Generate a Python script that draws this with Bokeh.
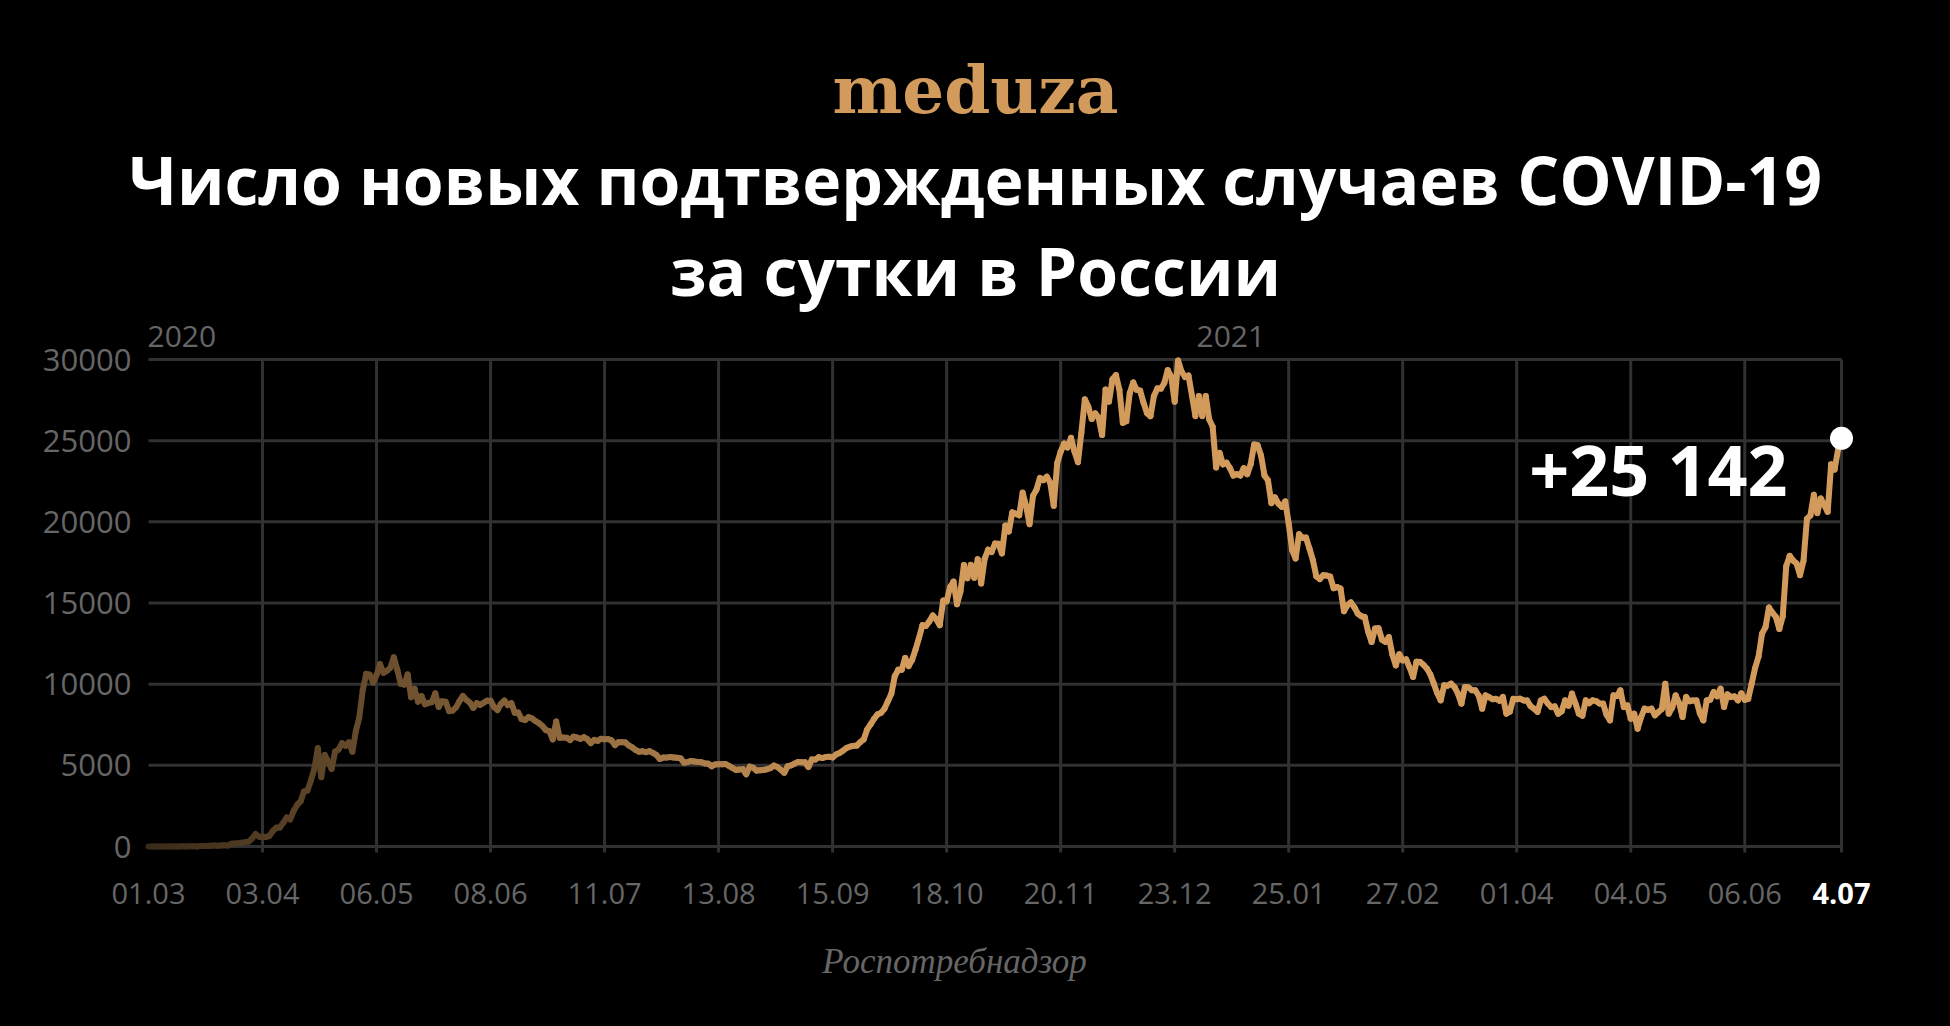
import numpy as np
import pandas as pd
from bokeh.plotting import figure
from bokeh.models import Range1d, ColumnDataSource
from bokeh.core.properties import value
from bokeh.embed import file_html
from bokeh.resources import INLINE

# ---------------- data (daily new confirmed cases, Russia) ----------------
START_DATE = "2020-03-01"
MAR_2020 = [0, 1, 0, 0, 1, 6, 0, 3, 0, 3, 8, 6, 17, 14, 4, 27, 24, 33, 52, 54, 53, 61, 71, 57, 163, 182, 196, 228, 270, 302, 501]
APR_2020 = [771, 601, 601, 582, 658, 954, 1154, 1175, 1459, 1786, 1667, 2186, 2558, 2774, 3388, 3448, 4070, 4785, 6060, 4268,
            5642, 5236, 4774, 5849, 5966, 6361, 6198, 6411, 5841, 7099]
MAY_2020 = [7933, 9623, 10633, 10581, 10102, 10559, 11231, 10699, 10817, 11012, 11656, 10899, 10028, 9974, 10598, 9200, 9709,
            8926, 9263, 8764, 8849, 8894, 9434, 8599, 8946, 8915, 8338, 8371, 8572, 8952, 9268]
JUN_2020 = [9035, 8863, 8536, 8831, 8726, 8855, 8984, 8985, 8595, 8404, 8779, 8987, 8706, 8835, 8246, 8248, 7843, 7790, 7972,
            7889, 7728, 7600, 7425, 7176, 7113, 6600, 7700, 6693, 6719, 6693]
JUL_2020 = [6556, 6760, 6718, 6632, 6736, 6611, 6368, 6562, 6509, 6635, 6611, 6615, 6537, 6248, 6422, 6428, 6406, 6234, 6109,
            5940, 5842, 5862, 5811, 5871, 5765, 5635, 5395, 5475, 5475, 5509, 5482]
AUG_2020 = [5462, 5427, 5159, 5204, 5267, 5241, 5212, 5189, 5118, 5102, 4945, 5058, 5065, 5061, 5076, 4969, 4839, 4718, 4748,
            4767, 4450, 4921, 4852, 4676, 4696, 4711, 4758, 4829, 4980, 4897, 4729]
SEP_2020 = [4540, 4952, 4995, 5110, 5205, 5195, 5185, 4900, 5363, 5363, 5504, 5449, 5509, 5529, 5488, 5670, 5762, 5905, 6065,
            6148, 6196, 6215, 6431, 6595, 7212, 7523, 7867, 8135, 8232, 8481]
OCT_2020 = [8945, 9412, 10499, 10888, 10888, 11615, 11115, 11493, 12126, 12846, 13634, 13592, 13868, 14231, 14000, 13630, 15150,
            15099, 15982, 16319, 14922, 15700, 17340, 16521, 17347, 16550, 17700, 16202, 17717, 18283, 18140]
NOV_2020 = [18665, 18648, 18050, 19768, 19404, 20582, 20498, 20396, 21798, 20977, 19851, 21608, 21983, 22702, 22572, 22778,
            22410, 20985, 23610, 24318, 24822, 24581, 25173, 24326, 23675, 25487, 27543, 27100, 26338, 26683]
DEC_2020 = [26402, 25345, 28145, 27403, 28782, 29039, 28142, 26097, 26190, 27927, 28585, 28137, 28080, 27328, 26689, 26509,
            27750, 28214, 28209, 28552, 29350, 28948, 27400, 29935, 29258, 28921, 29018, 27787, 26513, 27747, 26513]
JAN_2021 = [27747, 26301, 25860, 23351, 24246, 23541, 23652, 23309, 22851, 22934, 22850, 23315, 22934, 23541, 24763, 24715,
            24092, 22857, 22565, 21152, 21513, 21127, 20921, 21262, 19900, 18255, 17741, 19238, 19014, 19032, 18359]
FEB_2021 = [17640, 16643, 16474, 16714, 16688, 16627, 15916, 15977, 15890, 14494, 14861, 15038, 14734, 14350, 14185, 14140,
            13233, 12600, 13433, 13447, 12742, 12604, 12900, 11823, 11160, 11843, 11470, 11534]
MAR_2021 = [11024, 10440, 11385, 11370, 11198, 10960, 10595, 10030, 9437, 9000, 9930, 9907, 10030, 9816, 9415, 8800, 9830, 9801,
            9632, 9620, 9299, 8490, 9310, 9195, 9073, 9100, 8979, 9210, 8180, 8304, 9100]
APR_2021 = [9073, 9102, 9000, 8996, 8646, 8490, 8294, 8997, 9100, 8810, 8590, 8632, 8180, 8326, 9000, 8672, 9415, 8806, 8180,
            8053, 9000, 8828, 9000, 8951, 8807, 8800, 8114, 7770, 9310, 9270]
MAY_2021 = [9623, 8590, 8697, 7875, 8180, 7255, 7975, 8490, 8419, 8490, 8075, 8280, 8465, 10030, 8180, 8554, 9310, 8832, 7975,
            9210, 8951, 8997, 9000, 8217, 7770, 9000, 9045, 9515, 9256, 9720, 8590]
JUN_2021 = [9371, 9210, 9247, 9000, 9433, 9039, 9100, 10030, 11000, 11699, 13115, 13510, 14723, 14400, 14140, 13397, 14185,
            17262, 17906, 17611, 17430, 16715, 17594, 20182, 20393, 21665, 20538, 21440, 21042, 20616]
JUL_2021 = [23543, 23218, 24439, 25142]

VALUES = (MAR_2020 + APR_2020 + MAY_2020 + JUN_2020 + JUL_2020 + AUG_2020 + SEP_2020 + OCT_2020 + NOV_2020 + DEC_2020
          + JAN_2021 + FEB_2021 + MAR_2021 + APR_2021 + MAY_2021 + JUN_2021 + JUL_2021)

TICK_DATES = ["2020-03-01", "2020-04-03", "2020-05-06", "2020-06-08", "2020-07-11", "2020-08-13", "2020-09-15",
              "2020-10-18", "2020-11-20", "2020-12-23", "2021-01-25", "2021-02-27", "2021-04-01", "2021-05-04",
              "2021-06-06", "2021-07-04"]
TICK_LABELS = ["01.03", "03.04", "06.05", "08.06", "11.07", "13.08", "15.09", "18.10", "20.11", "23.12", "25.01",
               "27.02", "01.04", "04.05", "06.06", "4.07"]
Y_TICKS = [0, 5000, 10000, 15000, 20000, 25000, 30000]
Y_LABELS = ["0", "5000", "10000", "15000", "20000", "25000", "30000"]
Y_MAX = 30000
YEAR_LABELS = ["2020", "2021"]
TITLE_LINES = ["Число новых подтвержденных случаев COVID-19", "за сутки в России"]
SOURCE_TEXT = "Роспотребнадзор"
LOGO_TEXT = "meduza"
LAST_TEXT = "+25 142"

# ---------------- derived ----------------
start = pd.Timestamp(START_DATE)
dates = pd.date_range(start, periods=len(VALUES), freq="D")
days = np.array((dates - start).days, dtype=float)
vals = np.array(VALUES, dtype=float)
tick_days = [float(d) for d in (pd.to_datetime(TICK_DATES) - start).days]
x_end = days[-1]

# ---------------- layout (page pixel coordinates) ----------------
W, H = 1950, 1020
X0_PX, X1_PX = 148, 1841      # pixel x of first / last day
Y0_PX, YM_PX = 846, 359       # pixel y of 0 / Y_MAX
PXD = (X1_PX - X0_PX) / x_end
PXV = (Y0_PX - YM_PX) / Y_MAX


def X(px):
    return (px - X0_PX) / PXD


def Y(py):
    return (Y0_PX - py) / PXV


GRID = "#313131"
GREY = "#666666"
ORANGE = np.array([211, 155, 91])
FONT = "Open Sans"

p = figure(width=W, height=H,
           x_range=Range1d(X(0), X(W)), y_range=Range1d(Y(H), Y(0)),
           x_axis_location=None, y_axis_location=None,
           output_backend="svg", toolbar_location=None,
           background_fill_color="black", border_fill_color="black",
           outline_line_color=None, min_border=0)
p.grid.visible = False

# grid lines (data area only)
p.segment(x0=[0.0] * len(Y_TICKS), x1=[x_end] * len(Y_TICKS), y0=Y_TICKS, y1=Y_TICKS,
          line_color=GRID, line_width=3)
vt = tick_days[1:]
p.segment(x0=vt, x1=vt, y0=[Y(Y0_PX + 6)] * len(vt), y1=[Y_MAX] * len(vt),
          line_color=GRID, line_width=3)

# tick labels
p.text(x=[X(131)] * len(Y_TICKS), y=Y_TICKS, text=Y_LABELS,
       text_font=value(FONT), text_font_size=value("31px"), text_color=GREY,
       text_align="right", text_baseline="middle")
p.text(x=tick_days[:-1], y=[Y(893)] * (len(tick_days) - 1), text=TICK_LABELS[:-1],
       text_font=value(FONT), text_font_size=value("29px"), text_color=GREY,
       text_align="center", text_baseline="middle")
p.text(x=[tick_days[-1]], y=[Y(893)], text=[TICK_LABELS[-1]],
       text_font=value(FONT), text_font_size=value("29px"), text_font_style="bold", text_color="white",
       text_align="center", text_baseline="middle")
p.text(x=[X(147), X(1196)], y=[Y(336), Y(336)], text=YEAR_LABELS,
       text_font=value(FONT), text_font_size=value("30px"), text_color=GREY,
       text_align="left", text_baseline="middle")

# gradient line (segments fading in from dark brown)
mid = (days[:-1] + days[1:]) / 2
f = np.clip(0.28 + 0.72 * mid / 215.0, 0, 1)
cols = ["#%02x%02x%02x" % tuple(int(c) for c in ORANGE * fi) for fi in f]
src = ColumnDataSource(dict(x0=days[:-1], y0=vals[:-1], x1=days[1:], y1=vals[1:], c=cols))
p.segment(x0="x0", y0="y0", x1="x1", y1="y1", line_color="c", line_width=6, line_cap="round", source=src)

# last point + its value
p.scatter(x=[days[-1]], y=[vals[-1]], size=23, fill_color="white", line_color=None)
p.text(x=[X(1787)], y=[Y(468)], text=[LAST_TEXT], text_font=value(FONT), text_font_style="bold",
       text_font_size=value("70px"), text_color="white", text_align="right", text_baseline="middle")

# header / footer
p.text(x=[X(975), X(975)], y=[Y(178), Y(269)], text=TITLE_LINES, text_font=value(FONT), text_font_style="bold",
       text_font_size=value("66px"), text_color="white", text_align="center", text_baseline="middle")
p.text(x=[X(975)], y=[Y(89)], text=[LOGO_TEXT], text_font=value("DejaVu Serif"), text_font_style="bold",
       text_font_size=value("66px"), text_color="#d39b5b", text_align="center", text_baseline="middle")
p.text(x=[X(954)], y=[Y(961)], text=[SOURCE_TEXT], text_font=value("Liberation Serif"), text_font_style="italic",
       text_font_size=value("35px"), text_color=GREY, text_align="center", text_baseline="middle")

TEMPLATE = "{% block preamble %}<style>html, body { background-color: #000000; }</style>{% endblock %}"
open("out.html", "w").write(file_html(p, INLINE, template=TEMPLATE))
